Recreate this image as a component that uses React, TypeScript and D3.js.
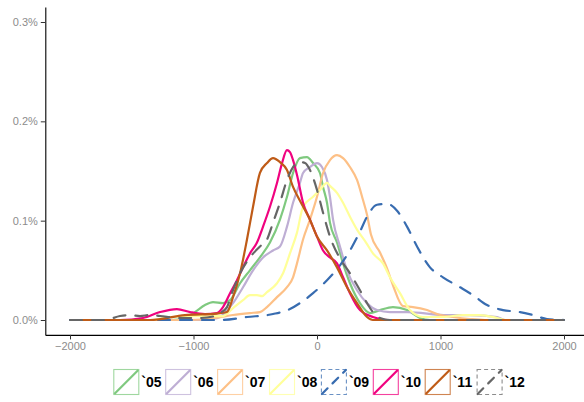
import { useEffect, useRef } from "react";
import * as d3 from "d3";

// series labels, colours and line types
const years = ["`05", "`06", "`07", "`08", "`09", "`10", "`11", "`12"];
const colors = ["#7FC97F", "#BEAED4", "#FDC086", "#FFFF99", "#386CB0", "#F0027F", "#BF5B17", "#666666"];
const dashed = [false, false, false, false, true, false, false, true];

const xTicks = [-2000, -1000, 0, 1000, 2000];
const yTicks = [0, 0.1, 0.2, 0.3];

// density (in %): [x, density]
const d05 = [[-2000, 0], [-1190, 0], [-1069, 0.002], [-988, 0.008], [-907, 0.015], [-842, 0.018], [-761, 0.017], [-704, 0.02], [-623, 0.037], [-543, 0.05], [-462, 0.063], [-381, 0.078], [-300, 0.101], [-243, 0.124], [-194, 0.148], [-138, 0.163], [-81, 0.164], [-32, 0.158], [24, 0.148], [49, 0.134], [81, 0.118], [105, 0.098], [162, 0.078], [211, 0.057], [267, 0.037], [348, 0.017], [429, 0.007], [510, 0.01], [615, 0.013], [729, 0.01], [834, 0.002], [915, 0], [2000, 0]];
const d06 = [[-2000, 0], [-947, 0], [-842, 0.001], [-786, 0.003], [-680, 0.017], [-599, 0.033], [-518, 0.05], [-437, 0.063], [-356, 0.07], [-300, 0.074], [-243, 0.094], [-194, 0.118], [-138, 0.138], [-113, 0.148], [-57, 0.154], [0, 0.158], [40, 0.154], [81, 0.141], [105, 0.124], [130, 0.101], [186, 0.074], [243, 0.05], [324, 0.03], [405, 0.017], [486, 0.01], [591, 0.008], [729, 0.008], [1053, 0.005], [1239, 0.005], [1457, 0.003], [1522, 0], [2000, 0]];
const d07 = [[-2000, 0], [-1028, 0], [-826, 0.002], [-680, 0.005], [-543, 0.007], [-462, 0.008], [-405, 0.013], [-324, 0.023], [-243, 0.033], [-194, 0.043], [-162, 0.057], [-113, 0.081], [-57, 0.101], [0, 0.124], [49, 0.148], [105, 0.161], [162, 0.166], [211, 0.163], [267, 0.154], [324, 0.141], [372, 0.121], [405, 0.106], [437, 0.086], [510, 0.068], [567, 0.052], [615, 0.035], [696, 0.014], [777, 0.013], [891, 0.01], [996, 0.005], [1101, 0.003], [1239, 0.001], [1360, 0], [2000, 0]];
const d08 = [[-2000, 0], [-1352, 0], [-1190, 0.003], [-947, 0.004], [-761, 0.004], [-680, 0.012], [-599, 0.02], [-543, 0.025], [-486, 0.025], [-445, 0.024], [-405, 0.028], [-324, 0.037], [-275, 0.047], [-219, 0.067], [-162, 0.088], [-113, 0.114], [-32, 0.124], [24, 0.131], [81, 0.138], [105, 0.135], [162, 0.128], [211, 0.118], [267, 0.104], [324, 0.091], [397, 0.078], [453, 0.067], [534, 0.057], [591, 0.043], [672, 0.027], [753, 0.01], [858, 0.003], [1020, 0.003], [1182, 0.005], [1320, 0.005], [1457, 0.002], [1522, 0], [2000, 0]];
const d09 = [[-2000, 0], [-947, 0], [-786, 0], [-567, 0.003], [-356, 0.006], [-219, 0.011], [-138, 0.017], [-32, 0.027], [81, 0.04], [186, 0.055], [267, 0.07], [348, 0.089], [405, 0.104], [486, 0.116], [567, 0.117], [648, 0.11], [729, 0.094], [810, 0.074], [915, 0.053], [1020, 0.043], [1158, 0.033], [1263, 0.025], [1377, 0.015], [1506, 0.01], [1644, 0.008], [1749, 0.005], [1862, 0.001], [2000, 0]];
const d10 = [[-2000, 0], [-1595, 0], [-1409, 0.002], [-1271, 0.008], [-1134, 0.011], [-1028, 0.008], [-907, 0.006], [-810, 0.007], [-761, 0.013], [-704, 0.027], [-648, 0.04], [-599, 0.053], [-543, 0.067], [-486, 0.078], [-437, 0.094], [-381, 0.114], [-324, 0.138], [-283, 0.158], [-243, 0.171], [-219, 0.169], [-194, 0.161], [-162, 0.146], [-113, 0.118], [-57, 0.101], [0, 0.084], [49, 0.07], [105, 0.063], [162, 0.057], [211, 0.043], [267, 0.027], [348, 0.01], [453, 0.003], [567, 0], [2000, 0]];
const d11 = [[-2000, 0], [-1352, 0], [-1069, 0.005], [-810, 0.0065], [-729, 0.008], [-680, 0.023], [-623, 0.047], [-567, 0.081], [-518, 0.114], [-462, 0.148], [-405, 0.158], [-356, 0.163], [-300, 0.159], [-243, 0.151], [-194, 0.134], [-138, 0.12], [-57, 0.101], [0, 0.084], [81, 0.07], [162, 0.053], [243, 0.033], [324, 0.017], [405, 0.003], [453, 0], [2000, 0]];
const d12 = [[-2000, 0], [-1717, 0], [-1595, 0.004], [-1514, 0.005], [-1433, 0.004], [-1352, 0.005], [-1271, 0.004], [-1109, 0.002], [-947, 0.002], [-826, 0.004], [-786, 0.007], [-729, 0.013], [-680, 0.03], [-623, 0.047], [-543, 0.063], [-462, 0.074], [-405, 0.081], [-356, 0.098], [-300, 0.118], [-243, 0.141], [-194, 0.154], [-138, 0.159], [-97, 0.158], [-57, 0.151], [0, 0.131], [49, 0.108], [105, 0.084], [186, 0.062], [267, 0.047], [348, 0.03], [405, 0.017], [453, 0.008], [510, 0.002], [591, 0], [2000, 0]];

const series = [d05, d06, d07, d08, d09, d10, d11, d12];

const width = 584, height = 402;
const font = "'Liberation Sans', Arial, sans-serif";

export default function App() {
    const svgRef = useRef<SVGSVGElement>(null);

    useEffect(() => {
        document.body.style.margin = "0";
        const svg = d3.select(svgRef.current);
        svg.selectAll("*").remove();

        const x = d3.scaleLinear().domain([-2200, 2200]).range([45.3, 588.7]);
        const y = d3.scaleLinear().domain([-0.015, 0.315]).range([334.9, 7.1]);

        // axes
        const xAxis = svg.append("g")
            .attr("transform", `translate(0,${y.range()[0]})`)
            .call(d3.axisBottom(x).tickValues(xTicks).tickSize(4.5).tickPadding(3).tickSizeOuter(0)
                .tickFormat(d => d3.format("d")(d as number).replace("-", "\u2212")));
        const yAxis = svg.append("g")
            .attr("transform", `translate(${x.range()[0]},0)`)
            .call(d3.axisLeft(y).tickValues(yTicks).tickSize(4.5).tickPadding(3).tickSizeOuter(0)
                .tickFormat(d => `${(d as number).toFixed(1)}%`));
        for (const ax of [xAxis, yAxis]) {
            ax.select(".domain").attr("stroke", "#000").attr("stroke-width", 1.1);
            ax.selectAll(".tick line").attr("stroke", "#333").attr("stroke-width", 1);
            ax.selectAll(".tick text")
                .attr("fill", "#8c8c8c")
                .style("font-family", font)
                .style("font-size", "11px");
        }

        const line = d3.line<number[]>()
            .x(d => x(d[0]))
            .y(d => y(d[1]))
            .curve(d3.curveMonotoneX);

        const plot = svg.append("g");
        series.forEach((s, i) => {
            plot.append("path")
                .attr("d", line(s))
                .attr("fill", "none")
                .attr("stroke", colors[i])
                .attr("stroke-width", 2.2)
                .attr("stroke-linejoin", "round")
                .attr("stroke-dasharray", dashed[i] ? "12,10" : null)
                .attr("stroke-linecap", dashed[i] ? "round" : "butt");
        });

        // legend
        const key = 26, step = 51.9, lx0 = 113.3, ly0 = 369;
        const legend = svg.append("g");
        years.forEach((lab, i) => {
            const g = legend.append("g").attr("transform", `translate(${lx0 + i * step},${ly0})`);
            g.append("rect")
                .attr("x", 0.5).attr("y", 0.5)
                .attr("width", key - 1).attr("height", key - 1)
                .attr("fill", "none")
                .attr("stroke", colors[i])
                .attr("stroke-opacity", 0.75)
                .attr("stroke-width", 1.1)
                .attr("stroke-dasharray", dashed[i] ? "4,3" : null);
            g.append("line")
                .attr("x1", 1).attr("y1", key - 1)
                .attr("x2", key - 1).attr("y2", 1)
                .attr("stroke", colors[i])
                .attr("stroke-width", 2.2)
                .attr("stroke-dasharray", dashed[i] ? "8,7" : null)
                .attr("stroke-linecap", dashed[i] ? "round" : "butt");
            g.append("text")
                .attr("x", key + 2)
                .attr("y", key / 2 + 5)
                .style("font-family", font)
                .style("font-size", "14px")
                .style("font-weight", "bold")
                .attr("fill", "#000")
                .text(lab);
        });
    }, []);

    return <svg ref={svgRef} width={width} height={height} style={{ display: "block" }}></svg>;
}
